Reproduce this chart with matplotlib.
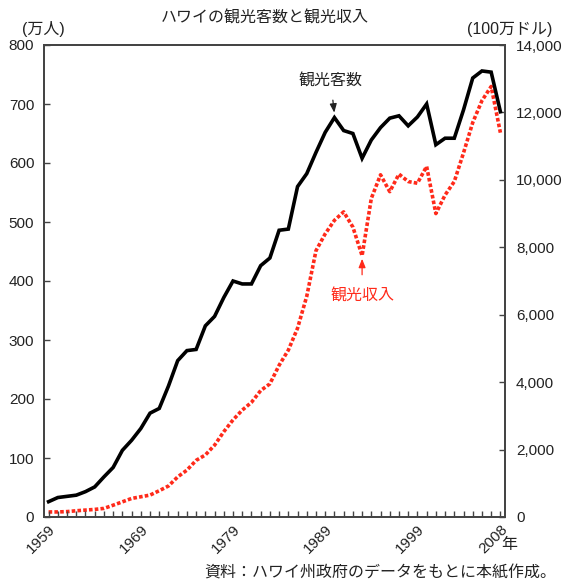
import numpy as np
import matplotlib.pyplot as plt

plt.rcParams['font.family'] = ['Liberation Sans', 'Noto Sans CJK JP']

# Hawaii: visitor arrivals (10k people) and visitor spending (million USD)
years = np.arange(1959, 2009)
visitors = [26, 33, 35, 37, 43, 51, 68, 84, 113, 130,
            150, 176, 184, 222, 265, 282, 284, 324, 340, 372,
            400, 395, 395, 426, 439, 486, 488, 560, 582, 618,
            652, 677, 655, 650, 608, 639, 660, 676, 680, 663,
            678, 700, 631, 642, 642, 690, 744, 756, 754, 687]
revenue = [150, 150, 160, 185, 205, 225, 255, 350, 450, 550,
           600, 650, 780, 920, 1190, 1390, 1680, 1840, 2130, 2530,
           2880, 3170, 3400, 3750, 3950, 4500, 4950, 5600, 6550, 7900,
           8400, 8800, 9050, 8600, 7750, 9450, 10150, 9650, 10170, 9950,
           9900, 10400, 9000, 9550, 9950, 10800, 11700, 12350, 12770, 11400]
year_ticks = [1959, 1969, 1979, 1989, 1999, 2008]

text_col = '#222222'
red = '#ff2a1a'
arrow = '-|>,head_length=0.45,head_width=0.18'

fig = plt.figure(figsize=(5.68, 5.84), dpi=100)
ax = fig.add_axes([44 / 568, 1 - 517 / 584, 461 / 568, 472 / 584])
ax2 = ax.twinx()

ax.plot(years, visitors, color='black', lw=2.6, solid_joinstyle='miter', zorder=3)
ax2.plot(years, revenue, color=red, lw=2.6, linestyle=(0, (1.0, 0.6)),
         dash_capstyle='butt', zorder=2)

ax.set_xlim(1958.5, 2008.5)
ax.set_ylim(0, 800)
ax2.set_ylim(0, 14000)
ax.set_yticks(range(0, 801, 100))
ax2.set_yticks(range(0, 14001, 2000))
ax2.set_yticklabels([f'{v:,}' for v in range(0, 14001, 2000)])
ax.set_xticks(year_ticks)
ax.set_xticks(years, minor=True)
ax.set_xticklabels([str(y) for y in year_ticks], rotation=45, ha='right',
                   va='top', rotation_mode='anchor')

spine_col = '#444444'
for a in (ax, ax2):
    for s in a.spines.values():
        s.set_color(spine_col)
        s.set_linewidth(1.3)
    a.tick_params(direction='in', length=4, width=1, color=spine_col,
                  labelsize=11, labelcolor=text_col)
ax.tick_params(axis='x', which='both', direction='in', length=4, width=1,
               color=spine_col, pad=4)
ax.tick_params(axis='y', pad=7)
ax2.tick_params(axis='y', pad=8)

ax.set_zorder(ax2.get_zorder() + 1)
ax.patch.set_visible(False)

# labels on the lines
ax.annotate('観光客数', xy=(1990, 683), xytext=(1989.6, 738),
            ha='center', va='center', fontsize=11.5, color=text_col,
            arrowprops=dict(arrowstyle=arrow, color=text_col, lw=0.9,
                            shrinkA=6, shrinkB=1))
ax2.annotate('観光収入', xy=(1993, 7700), xytext=(1993, 6550),
             ha='center', va='center', fontsize=11.5, color=red,
             arrowprops=dict(arrowstyle=arrow, color=red, lw=0.9,
                             shrinkA=8, shrinkB=1))

fig.text(265 / 568, 1 - 18 / 584, 'ハワイの観光客数と観光収入', ha='center',
         va='center', fontsize=11.5, color=text_col)
fig.text(43 / 568, 1 - 29 / 584, '(万人)', ha='center', va='center',
         fontsize=11.5, color=text_col)
fig.text(510 / 568, 1 - 29 / 584, '(100万ドル)', ha='center', va='center',
         fontsize=11.5, color=text_col)
fig.text(509 / 568, 1 - 545 / 584, '年', ha='center', va='center',
         fontsize=11.5, color=text_col)
fig.text(556 / 568, 1 - 573 / 584, '資料：ハワイ州政府のデータをもとに本紙作成。',
         ha='right', va='center', fontsize=11.5, color=text_col)

fig.savefig('out.png', dpi=100)
